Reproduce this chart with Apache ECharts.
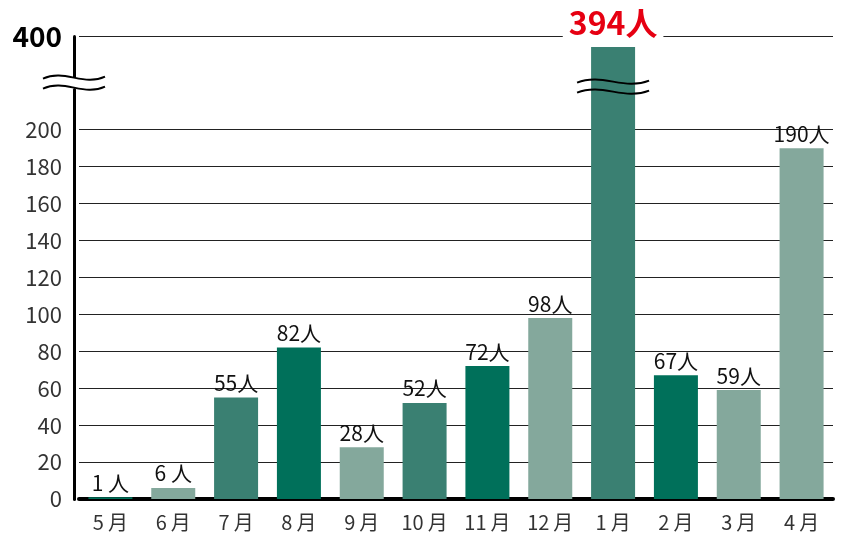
<!DOCTYPE html>
<html>
<head>
<meta charset="utf-8">
<script src="https://cdn.jsdelivr.net/npm/echarts@6/dist/echarts.min.js"></script>
<style>
  html, body { margin: 0; padding: 0; background: #fff; }
  #chart { width: 846px; height: 537px; }
</style>
</head>
<body>
<div id="chart"></div>
<script>
var months = ['5月', '6月', '7月', '8月', '9月', '10月', '11月', '12月', '1月', '2月', '3月', '4月'];
var visitors = [1, 6, 55, 82, 28, 52, 72, 98, 394, 67, 59, 190];
var shades = ['dark', 'light', 'medium', 'dark', 'light', 'medium', 'dark', 'light', 'medium', 'dark', 'light', 'light'];
var yTicks = [0, 20, 40, 60, 80, 100, 120, 140, 160, 180, 200, 400];
var gridValues = [20, 40, 60, 80, 100, 120, 140, 160, 180, 200, 400];
var breakFrom = 222, breakTo = 375; // 縦軸の省略区間

var palette = { dark: '#00705a', medium: '#3a8072', light: '#84a89c' };
var font = '"Noto Sans CJK JP", "Noto Sans", sans-serif';
var peak = 394;

var chart = echarts.init(document.getElementById('chart'));

var barData = visitors.map(function (v, i) {
  var item = { value: v, itemStyle: { color: palette[shades[i]] } };
  if (v === peak) {
    item.label = {
      color: '#e60012', fontSize: 32, fontWeight: 'bold', lineHeight: 32,
      backgroundColor: '#fff', padding: [0, 6, 0, 6], distance: 8
    };
  }
  return item;
});

var option = {
  animation: false,
  backgroundColor: '#fff',
  grid: { left: 79, right: 13, top: 36, bottom: 38 },
  xAxis: {
    type: 'category',
    data: months,
    axisLine: { lineStyle: { color: '#000', width: 4 } },
    axisTick: { show: false },
    axisLabel: {
      interval: 0,
      color: '#333', fontSize: 20, margin: 13, fontFamily: font,
      formatter: function (m) { return m.replace('月', '\u2009月'); }
    }
  },
  yAxis: {
    type: 'value',
    min: 0,
    max: 400,
    offset: 5,
    breaks: [{ start: breakFrom, end: breakTo, gap: '1.5%' }],
    breakArea: { show: false },
    axisLine: { show: true, lineStyle: { color: '#000', width: 3 } },
    axisTick: { show: false },
    splitLine: { show: false },
    axisLabel: {
      customValues: yTicks,
      color: '#333',
      fontSize: 22,
      margin: 12,
      fontFamily: font,
      formatter: function (v) {
        return v === 400 ? '{b|400}' : String(v);
      },
      rich: {
        b: { color: '#000', fontSize: 28, fontWeight: 'bold', fontFamily: font }
      }
    }
  },
  series: [{
    type: 'bar',
    data: barData,
    barWidth: 44,
    z: 2,
    label: {
      show: true,
      position: 'top',
      distance: 4,
      color: '#111',
      fontSize: 21,
      fontFamily: font,
      formatter: function (p) {
        return p.value < 10 ? p.value + ' 人' : p.value + '人';
      }
    },
    markLine: {
      silent: true,
      z: 1,
      symbol: ['none', 'none'],
      label: { show: false },
      lineStyle: { color: '#222', width: 1, type: 'solid' },
      emphasis: { disabled: true },
      data: gridValues.map(function (v) { return { yAxis: v }; })
    }
  }]
};

chart.setOption(option);

// 省略記号（波線）
function waves(cx, cy, w, withPatch) {
  var out = [];
  var gapY = 5;
  if (withPatch) {
    out.push({ type: 'rect', shape: { x: cx - 5, y: cy - gapY, width: 10, height: gapY * 2 },
      style: { fill: '#fff' }, z: 100 });
  }
  [-gapY, gapY].forEach(function (dy) {
    var y = cy + dy;
    out.push({
      type: 'bezierCurve',
      shape: {
        x1: cx - w, y1: y + 1, x2: cx + w, y2: y - 1,
        cpx1: cx - w * 0.3, cpy1: y - 9, cpx2: cx + w * 0.3, cpy2: y + 9
      },
      style: { stroke: '#000', lineWidth: 2, fill: null },
      z: 101
    });
  });
  return out;
}

var yA = chart.convertToPixel({ yAxisIndex: 0 }, breakFrom);
var yB = chart.convertToPixel({ yAxisIndex: 0 }, breakTo);
var yMid = (yA + yB) / 2;
var axisX = 74;
var peakX = chart.convertToPixel({ xAxisIndex: 0 }, months[visitors.indexOf(peak)]);

chart.setOption({
  graphic: waves(axisX, yMid - 3, 31, true).concat(waves(peakX, yMid + 1, 36, false))
});
</script>
</body>
</html>
